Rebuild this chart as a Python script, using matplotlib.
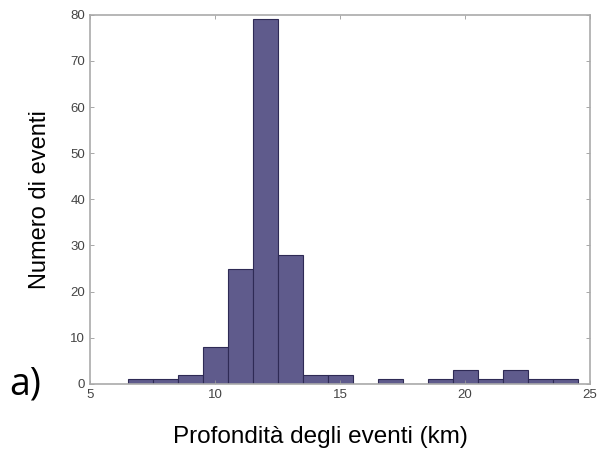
import numpy as np
import matplotlib
matplotlib.use("Agg")
import matplotlib.pyplot as plt

# histogram of event depths, bins 1 km wide centred on integers
bin_centers = [7, 8, 9, 10, 11, 12, 13, 14, 15, 16, 17, 18, 19, 20, 21, 22, 23, 24]
counts = [1, 1, 2, 8, 25, 79, 28, 2, 2, 0, 1, 0, 1, 3, 1, 3, 1, 1]
x_ticks = [5, 10, 15, 20, 25]
y_ticks = [0, 10, 20, 30, 40, 50, 60, 70, 80]

fig = plt.figure(figsize=(6.04, 4.5), dpi=100)
ax = fig.add_axes([0.149, 0.147, 0.828, 0.820])

ax.bar(bin_centers, counts, width=1.0, color="#5f5b8c", edgecolor="#2e2a55",
       linewidth=0.8)

ax.set_xlim(5, 25)
ax.set_ylim(0, 80)
ax.set_xticks(x_ticks)
ax.set_yticks(y_ticks)
ax.tick_params(direction="in", top=True, right=True, length=3, width=0.6,
               colors="#999999", labelcolor="#444444", labelsize=9.5)
for lab in ax.get_xticklabels() + ax.get_yticklabels():
    lab.set_family("Liberation Sans")
for s in ax.spines.values():
    s.set_color("#aaaaaa")
    s.set_linewidth(1.2)

ax.set_ylabel("Numero di eventi", fontsize=17, family="Liberation Sans", labelpad=14)
ax.set_xlabel("Profondità degli eventi (km)", fontsize=17.5, family="Liberation Sans")
ax.xaxis.set_label_coords(0.46, -0.115)
fig.text(0.015, 0.145, "a)", fontsize=27, family="Open Sans", va="center")

plt.savefig("out.png", dpi=100)
